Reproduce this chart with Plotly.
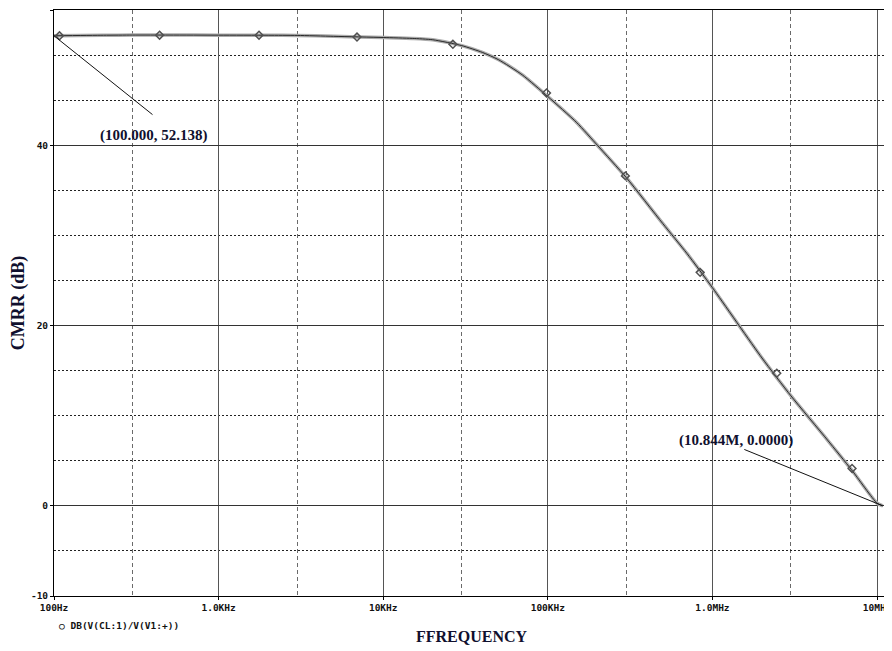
import numpy as np
import plotly.graph_objects as go

# ---- data ----
freq_hz = [100, 200, 300, 500, 1e3, 2e3, 3e3, 5e3, 1e4, 1.5e4, 2e4, 3e4, 4e4, 5e4,
           7e4, 1e5, 1.5e5, 2e5, 3e5, 5e5, 7e5, 1e6, 2e6, 3e6, 5e6, 7e6, 1e7, 1.0844e7]
cmrr_db = [52.14, 52.2, 52.22, 52.22, 52.21, 52.2, 52.18, 52.08, 51.95, 51.85, 51.7,
           51.05, 50.3, 49.5, 47.8, 45.4, 42.5, 40.0, 36.4, 31.3, 28.0, 24.2, 16.4,
           12.2, 7.3, 4.0, 0.3, 0.0]

marker_hz = [108, 438, 1760, 6930, 26500, 98200, 296000, 842000, 2460000, 7050000]
marker_db = [52.14, 52.2, 52.2, 52.0, 51.2, 45.8, 36.6, 25.9, 14.7, 4.15]

x_tickvals = [1e2, 1e3, 1e4, 1e5, 1e6, 1e7]
x_ticktext = ["100Hz", "1.0KHz", "10KHz", "100KHz", "1.0MHz", "10MHz"]
x_minorvals = [300, 3e3, 3e4, 3e5, 3e6]

y_tickvals = [-10, 0, 20, 40, 55]
y_ticktext = ["-10", "0", "20", "40", "55"]
y_minorvals = [-5, 5, 10, 15, 25, 30, 35, 45, 50]

cursor1 = (100.0, 52.138)
cursor2 = (10.844e6, 0.0)
legend_text = "○ DB(V(CL:1)/V(V1:+))"

# ---- figure ----
mono = "DejaVu Sans Mono"
serif = "Liberation Serif"
txtcol = "#10102e"

fig = go.Figure()
fig.add_trace(go.Scatter(x=freq_hz, y=cmrr_db, mode="lines",
                         line=dict(color="#ababab", width=3.5, shape="spline",
                                   smoothing=0.6),
                         hoverinfo="skip", showlegend=False))
fig.add_trace(go.Scatter(x=freq_hz, y=cmrr_db, mode="lines",
                         line=dict(color="#2a2a2a", width=1, shape="spline",
                                   smoothing=0.6),
                         showlegend=False))
fig.add_trace(go.Scatter(x=marker_hz, y=marker_db, mode="markers",
                         marker=dict(symbol="diamond-open", size=6, color="#505050",
                                     line=dict(width=1.5)),
                         showlegend=False))

fig.update_xaxes(
    type="log", range=[2, 7.0727],
    tickmode="array", tickvals=x_tickvals, ticktext=x_ticktext,
    tickfont=dict(family=mono, size=9.5, color="#111", weight="bold"),
    ticklabeloverflow="allow",
    showgrid=True, gridcolor="#555555", gridwidth=1,
    showline=True, linecolor="black", linewidth=1, mirror=True,
    ticks="outside", ticklen=3, tickcolor="black",
    zeroline=False,
    minor=dict(tickmode="array", tickvals=x_minorvals, showgrid=True,
               gridcolor="#6a6a6a", griddash="4px,3px", gridwidth=1, ticks=""),
    title=dict(text="FFREQUENCY", font=dict(family=serif, size=16, color=txtcol,
                                            weight="bold"), standoff=18),
)
fig.update_yaxes(
    range=[-10, 55],
    tickmode="array", tickvals=y_tickvals, ticktext=y_ticktext,
    tickfont=dict(family=mono, size=9.5, color="#111", weight="bold"),
    showgrid=True, gridcolor="#333333", gridwidth=1,
    showline=True, linecolor="black", linewidth=1,
    ticks="outside", ticklen=3, tickcolor="black",
    zeroline=False,
    minor=dict(tickmode="array", tickvals=y_minorvals, showgrid=True,
               gridcolor="#222222", griddash="2px,2px", gridwidth=1, ticks=""),
    title=dict(text="CMRR (dB)", font=dict(family=serif, size=18, color=txtcol,
                                           weight="bold"), standoff=8),
)

annos = [
    # leader lines from cursor points
    dict(x=np.log10(cursor1[0]), y=cursor1[1], xref="x", yref="y", text="",
         showarrow=True, arrowhead=0, arrowwidth=1, arrowcolor="#111",
         ax=100, ay=80, standoff=0, startstandoff=0),
    dict(x=np.log10(cursor2[0]), y=cursor2[1], xref="x", yref="y", text="",
         showarrow=True, arrowhead=0, arrowwidth=1, arrowcolor="#111",
         ax=-140, ay=-57, standoff=0, startstandoff=0),
    # cursor labels
    dict(x=2.605, y=41.1, xref="x", yref="y", showarrow=False,
         text=f"({cursor1[0]:.3f}, {cursor1[1]:.3f})",
         font=dict(family=serif, size=15, color=txtcol, weight="bold")),
    dict(x=6.146, y=7.25, xref="x", yref="y", showarrow=False,
         text=f"({cursor2[0]/1e6:.3f}M, {cursor2[1]:.4f})",
         font=dict(family=serif, size=15, color=txtcol, weight="bold")),
    # trace legend
    dict(x=0.0036, y=-0.051, xref="paper", yref="paper", showarrow=False,
         xanchor="left", yanchor="middle", text=legend_text,
         font=dict(family=mono, size=9.5, color="#111", weight="bold")),
]
fig.update_layout(
    width=884, height=643,
    margin=dict(l=46, r=0, t=2, b=55),
    paper_bgcolor="white", plot_bgcolor="white",
    annotations=annos,
    showlegend=False,
)
fig.write_html("out.html")
